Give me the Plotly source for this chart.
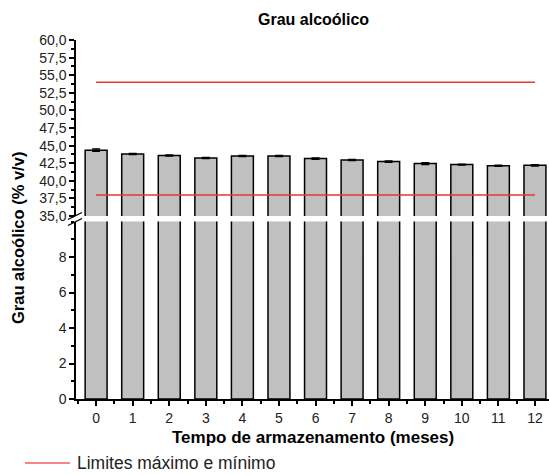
import plotly.graph_objects as go

# Storage time (months) and alcohol content (% v/v) with standard deviations
meses = list(range(13))
grau = [44.35, 43.80, 43.60, 43.24, 43.52, 43.52, 43.15, 42.96, 42.73, 42.45, 42.30, 42.13, 42.20]
desvio = [0.15, 0.08, 0.08, 0.07, 0.07, 0.07, 0.10, 0.08, 0.08, 0.12, 0.06, 0.08, 0.08]

# Legal limits (minimum, maximum)
limites = [38.0, 54.0]

# Axis ticks
ticks_sup = [35.0, 37.5, 40.0, 42.5, 45.0, 47.5, 50.0, 52.5, 55.0, 57.5, 60.0]
ticks_inf = [0, 2, 4, 6, 8]

FONT = "Arial, Liberation Sans, sans-serif"
W, H = 549, 475
L, R, T, B = 76, 0, 40, 76
ph = H - T - B
pw = W - L - R

def py(y):
    return (H - B - y) / ph

def px(x):
    return (x - L) / pw

dom_inf = [0, py(221.5)]
dom_sup = [py(216), 1]

fig = go.Figure()

bar_style = dict(marker=dict(color="#c0c0c0", line=dict(color="black", width=1.5)),
                 width=0.6, showlegend=False, hoverinfo="skip")

# lower panel (0-10)
fig.add_trace(go.Bar(x=meses, y=grau, xaxis="x", yaxis="y", **bar_style))
# upper panel (35-60) with error bars
fig.add_trace(go.Bar(x=meses, y=grau, xaxis="x2", yaxis="y2",
                     error_y=dict(type="data", array=desvio, color="black",
                                  thickness=1.5, width=4),
                     **bar_style))

for lim in limites:
    fig.add_trace(go.Scatter(x=[meses[0], meses[-1]], y=[lim, lim], mode="lines",
                             line=dict(color="#e53935", width=1.5),
                             xaxis="x2", yaxis="y2", showlegend=False, hoverinfo="skip"))

axis_common = dict(showline=True, linecolor="black", linewidth=1.5, showgrid=False,
                   zeroline=False, ticks="outside", ticklen=5, tickwidth=1.5,
                   tickcolor="black", tickfont=dict(family=FONT, size=14, color="#222"))

xr = [-0.55, -0.55 + pw / 36.57]

fig.update_layout(
    width=W, height=H,
    margin=dict(l=L, r=R, t=T, b=B),
    paper_bgcolor="white", plot_bgcolor="white",
    separators=",.",
    bargap=0.4,
    xaxis=dict(range=xr, tickvals=meses, anchor="y",
               minor=dict(tick0=0.5, dtick=1, ticklen=3, tickcolor="black", ticks="outside", tickwidth=1.5),
               **axis_common),
    xaxis2=dict(range=xr, anchor="y2", visible=False, matches="x"),
    yaxis=dict(domain=dom_inf, range=[0, 10], tickvals=ticks_inf, anchor="x",
               minor=dict(dtick=1, ticklen=3, tickcolor="black", ticks="outside", tickwidth=1.5),
               **axis_common),
    yaxis2=dict(domain=dom_sup, range=[35, 60], tickvals=ticks_sup, tickformat=".1f",
                anchor="x2",
                minor=dict(tick0=35, dtick=1.25, ticklen=3, tickcolor="black", ticks="outside", tickwidth=1.5),
                **axis_common),
)

# axis break marks
for y0 in (219.5, 225.5):
    fig.add_shape(type="line", xref="paper", yref="paper",
                  x0=px(L - 8), y0=py(y0), x1=px(L + 6), y1=py(y0 - 7),
                  line=dict(color="black", width=1.3))

annotations = [
    dict(text="<b>Grau alcoólico</b>", x=px(313), y=py(20), showarrow=False,
         font=dict(family=FONT, size=16, color="black"), xanchor="center", yanchor="middle"),
    dict(text="<b>Tempo de armazenamento (meses)</b>", x=px(313), y=py(438), showarrow=False,
         font=dict(family=FONT, size=17, color="black"), xanchor="center", yanchor="middle"),
    dict(text="<b>Grau alcoólico (% v/v)</b>", x=px(18), y=py(238), showarrow=False,
         textangle=-90, font=dict(family=FONT, size=16.5, color="black"),
         xanchor="center", yanchor="middle"),
    dict(text="Limites máximo e mínimo", x=px(75), y=py(463), showarrow=False,
         font=dict(family=FONT, size=17.5, color="#222"), xanchor="left", yanchor="middle"),
]
for a in annotations:
    a.update(xref="paper", yref="paper")
fig.update_layout(annotations=annotations)

# legend sample line
fig.add_shape(type="line", xref="paper", yref="paper",
              x0=px(25), y0=py(463), x1=px(70), y1=py(463),
              line=dict(color="#f06060", width=1.5))

fig.write_html("out.html")
